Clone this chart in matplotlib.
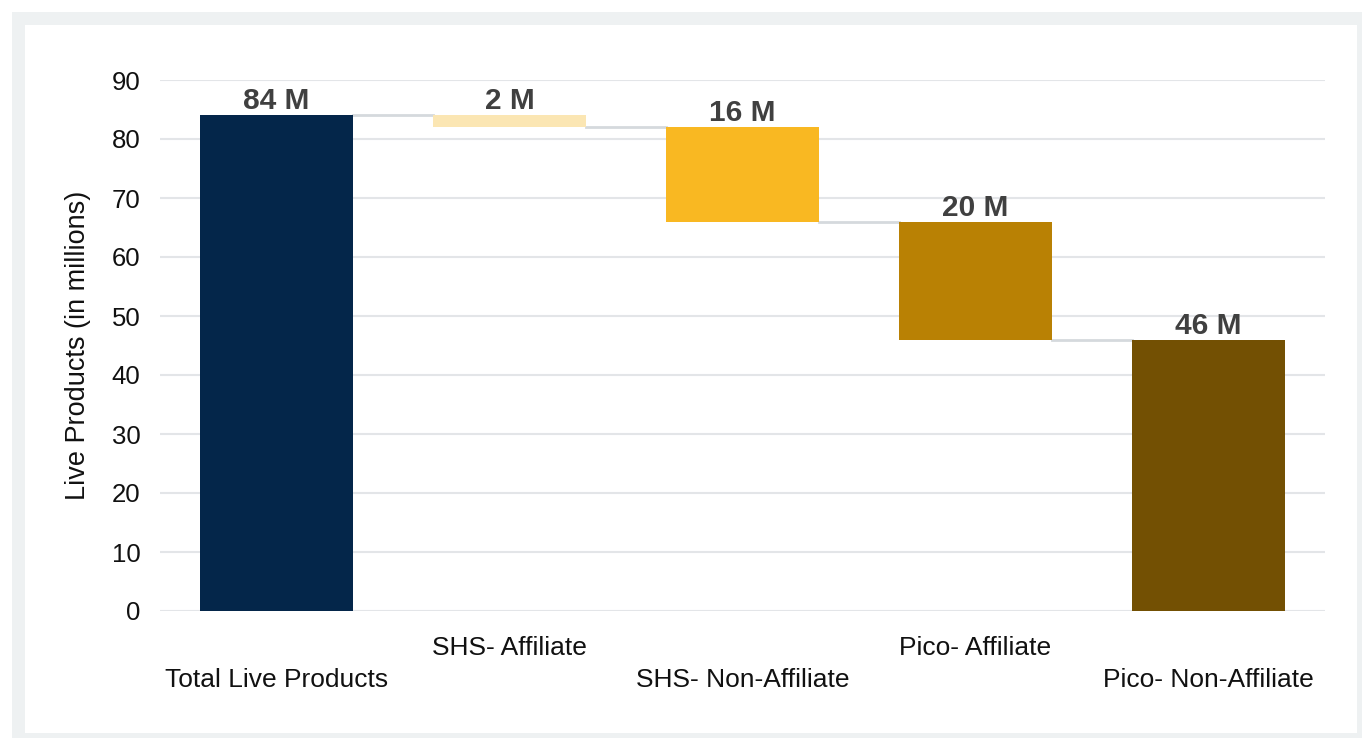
import matplotlib.pyplot as plt
from matplotlib.patches import Rectangle

plt.rcParams['font.family'] = ['Liberation Sans', 'DejaVu Sans']

# waterfall data (millions)
categories = ['Total Live Products', 'SHS- Affiliate', 'SHS- Non-Affiliate',
              'Pico- Affiliate', 'Pico- Non-Affiliate']
total = 84
parts = [2, 16, 20, 46]
colors = ['#04264a', '#fbe6b3', '#f9b822', '#b98104', '#735003']

# bar bottoms / heights
heights = [total] + parts
bottoms = [0]
level = total
for p in parts:
    level = level - p
    bottoms.append(level)

fig = plt.figure(figsize=(13.62, 7.38), dpi=100)
fig.patch.set_facecolor('white')
# light grey card frame
fig.patches.append(Rectangle((12 / 1362, 0), 1, 1 - 12 / 738, transform=fig.transFigure,
                             facecolor='#eef1f2', edgecolor='none', zorder=-2))
fig.patches.append(Rectangle((25 / 1362, 5 / 738), (1357 - 25) / 1362, (733 - 25) / 738,
                             transform=fig.transFigure, facecolor='white',
                             edgecolor='none', zorder=-1))

ax = fig.add_axes([160 / 1362, 1 - 611 / 738, (1325 - 160) / 1362, (611 - 80) / 738])
ax.set_facecolor('none')

x = list(range(len(categories)))
w = 0.66
ax.bar(x, heights, bottom=bottoms, width=w, color=colors, zorder=3)

# connector lines between bars
tops = [b + h for b, h in zip(bottoms, heights)]
for i in range(len(x) - 1):
    lvl = bottoms[i] if i > 0 else tops[i]
    ax.plot([x[i] + w / 2, x[i + 1] - w / 2], [lvl, lvl], color='#d5d9dd', lw=2, zorder=2)

for i, v in enumerate(heights):
    ax.annotate(f'{v} M', (x[i], tops[i]), xytext=(0, 0), textcoords='offset points',
                ha='center', va='bottom', fontsize=21.5, fontweight='bold', color='#404040',
                zorder=4)

ax.set_ylim(0, 90)
ax.set_xlim(-0.5, 4.5)
ax.set_yticks(range(0, 91, 10))
ax.grid(axis='y', color='#e3e5e8', lw=1.5, zorder=0)
for s in ax.spines.values():
    s.set_visible(False)
ax.tick_params(axis='both', length=0, labelcolor='#111111')
ax.tick_params(axis='y', pad=14, labelsize=18.5)
ax.tick_params(axis='x', labelsize=19)
ax.set_xticks(x)
ax.set_xticklabels(categories)
for i, t in enumerate(ax.xaxis.get_major_ticks()):
    t.set_pad(41 if i % 2 == 0 else 18)
ax.set_ylabel('Live Products (in millions)', fontsize=19.5, color='#111111', labelpad=15)

fig.savefig('out.png', dpi=100)
